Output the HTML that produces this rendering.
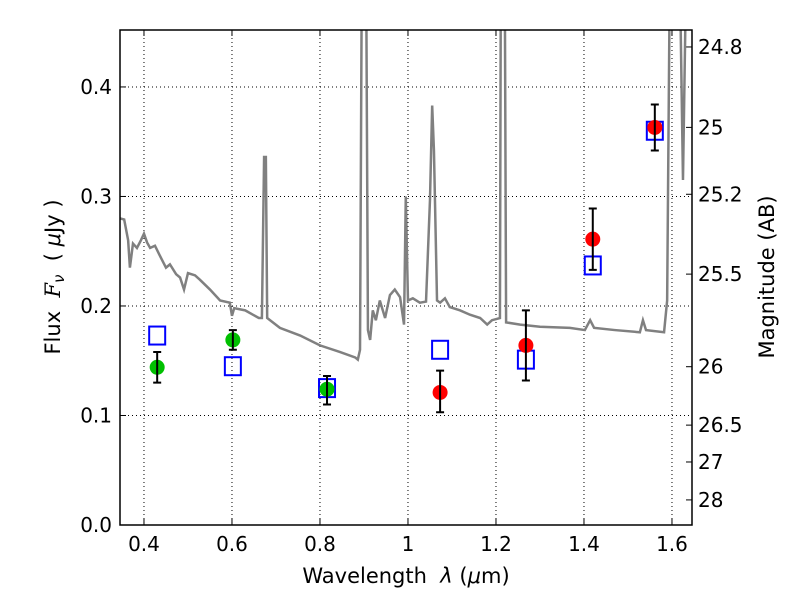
<!DOCTYPE html>
<html><head><meta charset="utf-8"><style>body{margin:0;background:#fff}svg{display:block;font-family:"DejaVu Sans","Liberation Sans",sans-serif}</style></head>
<body>
<svg id="chart" width="800" height="600" xmlns="http://www.w3.org/2000/svg"></svg>
<script>
const xTicks=[0.4,0.6,0.8,1.0,1.2,1.4,1.6];
const xTickLabels=["0.4","0.6","0.8","1","1.2","1.4","1.6"];
const yTicks=[0,0.1,0.2,0.3,0.4];
const yTickLabels=["0.0","0.1","0.2","0.3","0.4"];
const magTicks=[24.8,25,25.2,25.5,26,26.5,27,28];
const magTickLabels=["24.8","25","25.2","25.5","26","26.5","27","28"];
const specWave=[0.345,0.355,0.364,0.368,0.375,0.384,0.393,0.400,0.407,0.414,0.425,0.436,0.450,0.459,0.473,0.482,0.491,0.500,0.516,0.527,0.550,0.573,0.595,0.600,0.605,0.630,0.661,0.668,0.673,0.677,0.680,0.709,0.755,0.800,0.845,0.880,0.886,0.891,0.895,0.905,0.909,0.914,0.920,0.927,0.936,0.948,0.959,0.970,0.982,0.991,0.995,1.000,1.011,1.027,1.041,1.050,1.055,1.059,1.066,1.073,1.084,1.095,1.118,1.141,1.164,1.180,1.191,1.209,1.211,1.220,1.223,1.255,1.300,1.368,1.402,1.414,1.423,1.470,1.527,1.534,1.541,1.582,1.589,1.595,1.618,1.625,1.632];
const specFlux=[0.280,0.279,0.260,0.235,0.257,0.253,0.260,0.266,0.258,0.253,0.255,0.246,0.235,0.238,0.229,0.226,0.215,0.230,0.228,0.224,0.215,0.205,0.203,0.191,0.198,0.196,0.189,0.189,0.336,0.336,0.189,0.180,0.173,0.164,0.158,0.153,0.151,0.160,0.5,0.5,0.178,0.169,0.196,0.187,0.205,0.189,0.210,0.215,0.208,0.183,0.300,0.205,0.207,0.203,0.204,0.297,0.383,0.342,0.205,0.203,0.207,0.199,0.196,0.192,0.189,0.183,0.187,0.189,0.5,0.5,0.185,0.183,0.181,0.180,0.178,0.187,0.180,0.178,0.176,0.187,0.178,0.176,0.205,0.5,0.5,0.315,0.5];
const greenWave=[0.430,0.602,0.816];
const greenFlux=[0.144,0.169,0.124];
const greenHi=[0.158,0.178,0.136];
const greenLo=[0.130,0.160,0.110];
const redWave=[1.073,1.268,1.420,1.561];
const redFlux=[0.121,0.164,0.261,0.363];
const redHi=[0.141,0.196,0.289,0.384];
const redLo=[0.103,0.132,0.233,0.342];
const modelWave=[0.430,0.602,0.816,1.073,1.268,1.420,1.561];
const modelFlux=[0.173,0.145,0.125,0.160,0.151,0.237,0.360];

const L=120,R=692,T=30,B=525,X0=0.3455,X1=1.6455,Y0=0,Y1=0.452;
const sx=v=>L+(v-X0)/(X1-X0)*(R-L);
const sy=v=>B-(v-Y0)/(Y1-Y0)*(B-T);
const svg=document.getElementById('chart');
const NS='http://www.w3.org/2000/svg';
function mk(tag,attrs,parent){const e=document.createElementNS(NS,tag);for(const k in attrs)e.setAttribute(k,attrs[k]);(parent||svg).appendChild(e);return e;}
const defs=mk('defs',{});const cp=mk('clipPath',{id:'clip'},defs);mk('rect',{x:L,y:T,width:R-L,height:B-T},cp);
xTicks.forEach((v,i)=>{
 const g=mk('line',{x1:sx(v),x2:sx(v),y1:T,y2:B,stroke:'#000','stroke-dasharray':'1,3','stroke-width':1});
 
 const t=mk('line',{x1:sx(v),x2:sx(v),y1:B,y2:B-6,stroke:'#000'});
 
 mk('line',{x1:sx(v),x2:sx(v),y1:T,y2:T+6,stroke:'#000'});
 const l=mk('text',{x:sx(v),y:B+26,'text-anchor':'middle','font-size':20});l.textContent=xTickLabels[i];
 
});
yTicks.forEach((v,i)=>{
 const g=mk('line',{x1:L,x2:R,y1:sy(v),y2:sy(v),stroke:'#000','stroke-dasharray':'1,3','stroke-width':1});
 
 mk('line',{x1:L,x2:L+6,y1:sy(v),y2:sy(v),stroke:'#000'});
 const l=mk('text',{x:L-8,y:sy(v)+7,'text-anchor':'end','font-size':20});l.textContent=yTickLabels[i];
 
});
magTicks.forEach((m,i)=>{
 const f=Math.pow(10,(23.9-m)/2.5);const y=sy(f);
 const t=mk('line',{x1:R,x2:R-6,y1:y,y2:y,stroke:'#000'});
 
 const l=mk('text',{x:R+6,y:y+7,'font-size':20});l.textContent=magTickLabels[i];
 
});
const p=mk('polyline',{points:specWave.map((w,i)=>sx(w)+','+sy(specFlux[i])).join(' '),fill:'none',stroke:'#808080','stroke-width':2.5,'clip-path':'url(#clip)'});

modelWave.forEach((w,i)=>{
 const r=mk('rect',{x:sx(w)-8,y:sy(modelFlux[i])-9,width:16,height:18,fill:'none',stroke:'#0000ff','stroke-width':2});
 
});
function pts(wave,flux,hi,lo,color,name){
 wave.forEach((w,i)=>{
  const c=mk('circle',{cx:sx(w),cy:sy(flux[i]),r:7.5,fill:color});
  
  const x=sx(w);
  const e=mk('path',{d:`M${x},${sy(hi[i])}V${sy(lo[i])}M${x-4},${sy(hi[i])}H${x+4}M${x-4},${sy(lo[i])}H${x+4}`,stroke:'#000','stroke-width':2,fill:'none'});
  
 });
}
pts(greenWave,greenFlux,greenHi,greenLo,'#00c000','optical-photometry-point');
pts(redWave,redFlux,redHi,redLo,'#ff0000','nir-photometry-point');
const fr=mk('rect',{x:L,y:T,width:R-L,height:B-T,fill:'none',stroke:'#000','stroke-width':1.5});

const xl=mk('text',{x:406,y:583,'text-anchor':'middle','font-size':21,'xml:space':'preserve'});xl.innerHTML='Wavelength\u00a0\u00a0<tspan font-style="italic">λ</tspan> (<tspan font-style="italic">μ</tspan>m)';

const yl=mk('text',{x:0,y:0,'text-anchor':'middle','font-size':21,transform:'translate(60,277) rotate(-90)'});yl.innerHTML='Flux\u00a0\u00a0<tspan font-style="italic" font-family="DejaVu Serif">F</tspan><tspan font-style="italic" font-size="15" dy="4">ν</tspan><tspan dy="-4">\u00a0\u00a0(\u00a0</tspan><tspan font-style="italic">μ</tspan>Jy )';

const ml=mk('text',{x:0,y:0,'text-anchor':'middle','font-size':21,transform:'translate(774,277) rotate(-90)'});ml.textContent='Magnitude (AB)';

</script>
</body></html>
